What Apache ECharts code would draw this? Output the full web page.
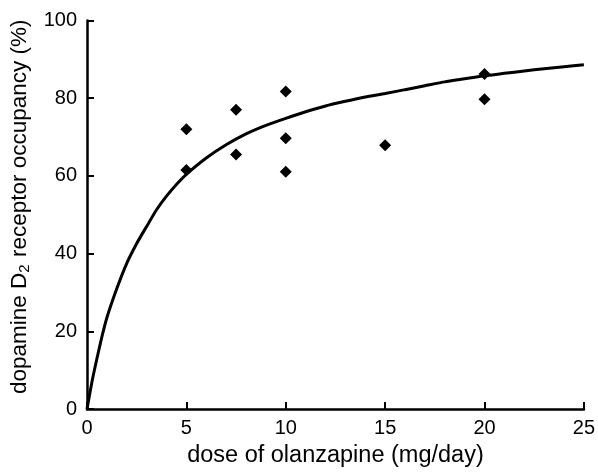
<!DOCTYPE html>
<html>
<head>
<meta charset="utf-8">
<script src="https://cdn.jsdelivr.net/npm/echarts@6/dist/echarts.min.js"></script>
<style>
  html, body { margin: 0; padding: 0; background: #fff; }
  #chart { width: 598px; height: 473px; }
</style>
</head>
<body>
<div id="chart"></div>
<script>
// measured occupancy per subject
const doseX = [5, 5, 7.5, 7.5, 10, 10, 10, 15, 20, 20];
const occupancy = [72.0, 61.5, 77.0, 65.5, 81.7, 69.7, 61.1, 67.9, 86.2, 79.7];

// fitted curve
const curveX = [0, 0.25, 0.5, 0.75, 1, 1.5, 2, 2.5, 3, 3.5, 4, 4.5, 5, 6, 7, 8, 9, 10, 11, 12, 13, 14, 15,
  16, 17, 18, 19, 20, 21, 22, 23, 24, 25];
const curveY = [0, 7, 13, 18.6, 23.5, 31, 37.5, 42.6, 47, 51.3, 54.8, 57.8, 60.4, 64.6, 68, 70.8, 73, 74.8, 76.5, 78, 79.2, 80.3, 81.2,
  82.2, 83.2, 84.2, 85, 85.8, 86.4, 87, 87.6, 88.1, 88.6];

const xTicks = [0, 5, 10, 15, 20, 25];
const yTicks = [0, 20, 40, 60, 80, 100];

const font = 'Liberation Sans, Arial, Helvetica, sans-serif';

const chart = echarts.init(document.getElementById('chart'));

const axisCommon = {
  type: 'value',
  nameLocation: 'middle',
  axisLine: { show: true, lineStyle: { color: '#000', width: 2.5 } },
  axisTick: { show: true, inside: true, length: 7, lineStyle: { color: '#000', width: 2 } },
  splitLine: { show: false },
};

chart.setOption({
  backgroundColor: '#fff',
  animation: false,
  grid: { left: 87, right: 11, top: 20.5, bottom: 64 },
  xAxis: {
    ...axisCommon,
    min: xTicks[0],
    max: xTicks[xTicks.length - 1],
    interval: 5,
    name: 'dose of olanzapine (mg/day)',
    nameGap: 35,
    nameTextStyle: { color: '#000', fontSize: 23.5, fontFamily: font },
    axisLabel: { color: '#000', fontSize: 20, fontFamily: font, margin: 9 },
  },
  yAxis: {
    ...axisCommon,
    min: yTicks[0],
    max: yTicks[yTicks.length - 1],
    interval: 20,
    name: 'dopamine D{sub|2} receptor occupancy (%)',
    nameGap: 50,
    nameRotate: 90,
    nameTextStyle: {
      color: '#000',
      fontSize: 22.5,
      fontFamily: font,
      padding: [0, 0, 0, 16],
      rich: {
        sub: { fontSize: 15, fontFamily: font, color: '#000', padding: [10, 1, 0, 0] },
      },
    },
    axisLabel: { color: '#000', fontSize: 20, fontFamily: font, margin: 10 },
  },
  series: [
    {
      type: 'line',
      data: curveX.map((x, i) => [x, curveY[i]]),
      smooth: 0.2,
      showSymbol: false,
      lineStyle: { color: '#000', width: 3 },
      z: 2,
    },
    {
      type: 'scatter',
      data: doseX.map((x, i) => [x, occupancy[i]]),
      symbol: 'diamond',
      symbolSize: 12,
      itemStyle: { color: '#000', opacity: 1 },
      z: 3,
    },
  ],
});
</script>
</body>
</html>
